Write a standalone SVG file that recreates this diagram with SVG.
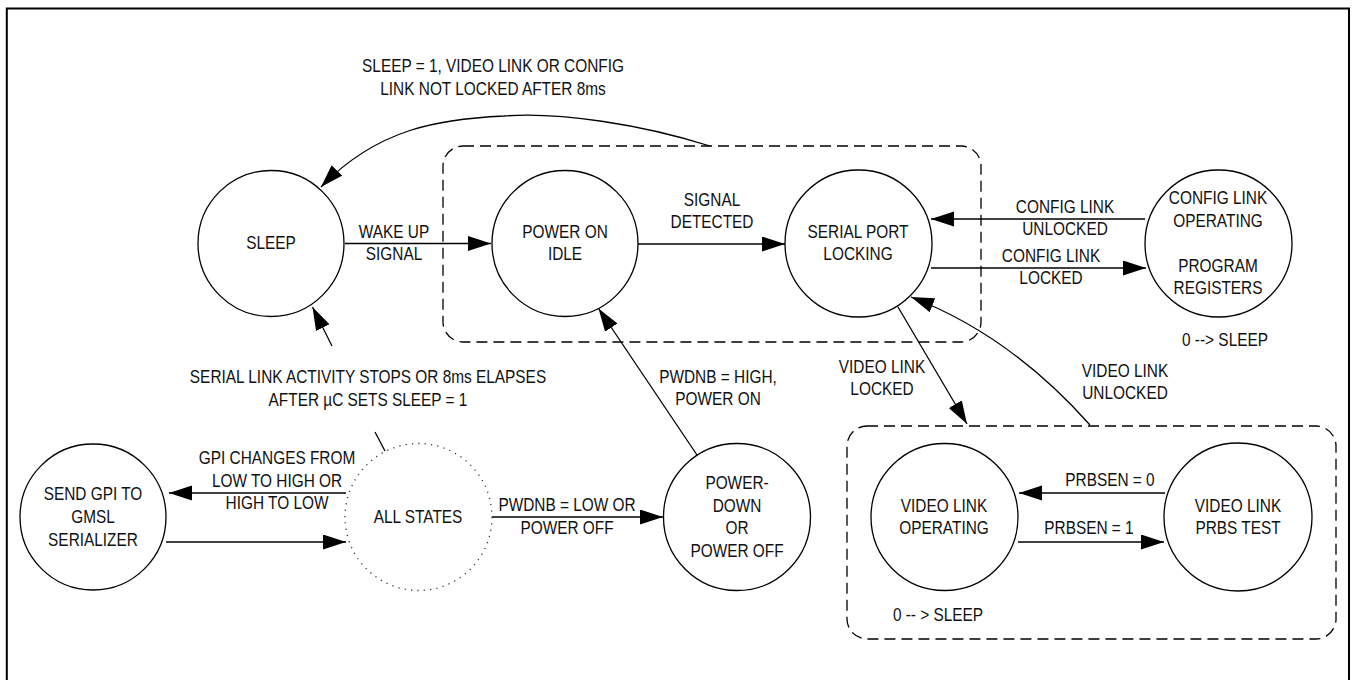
<svg xmlns="http://www.w3.org/2000/svg" width="1352" height="680" viewBox="0 0 1352 680">
  <style>
    .t { font-family: "Liberation Sans", Arial, "Helvetica", sans-serif; font-size: 17.5px; fill: #111; text-anchor: middle; }
    .node { fill: #fff; stroke: #000; stroke-width: 1.3; }
    .dot { fill: #fff; stroke: #333; stroke-width: 1.3; stroke-dasharray: 1.2 5.2; }
    .grp { fill: none; stroke: #000; stroke-width: 1.3; stroke-dasharray: 11 6; }
    .c { fill: none; stroke: #000; stroke-width: 1.3; }
    .arr { marker-end: url(#ah); }
  </style>
  <defs>
    <marker id="ah" markerUnits="userSpaceOnUse" markerWidth="24" markerHeight="16" refX="23" refY="7.5" orient="auto">
      <path d="M0,0 L23,7.5 L0,15 z" fill="#000"/>
    </marker>
  </defs>
  <rect width="1352" height="680" fill="#fff"/>
  <path d="M6.8,680 V8.5 H1349 V680" fill="none" stroke="#000" stroke-width="2"/>

  <g id="groups">
    <rect class="grp" x="443" y="146" width="538" height="196" rx="20"/>
    <rect class="grp" x="847" y="426" width="489" height="213" rx="20"/>
  </g>

  <g id="connectors">
    <path class="c arr" d="M345,243.5 H491"/>
    <path class="c arr" d="M638,244 H785"/>
    <path class="c arr" d="M1145,219 H931"/>
    <path class="c arr" d="M931,268 H1146"/>
    <path class="c arr" d="M898,307 L967,424"/>
    <path class="c arr" d="M1090,425 Q1010,335 911,297"/>
    <path class="c arr" d="M710,146 C640,124 560,112 504,116 C440,119 378,128 321,187"/>
    <path class="c" d="M385,451 L375,432"/>
    <path class="c arr" d="M332,346 L312.5,307"/>
    <path class="c arr" d="M697,455 L598.5,308.5"/>
    <path class="c arr" d="M492,517 H663"/>
    <path class="c arr" d="M346,493 H169"/>
    <path class="c arr" d="M166,542 H346"/>
    <path class="c arr" d="M1165,493 H1019"/>
    <path class="c arr" d="M1018,542 H1164"/>
  </g>

  <g id="labels">
    <text class="t" transform="translate(493,72.3) scale(0.88,1)"><tspan x="0" y="0">SLEEP = 1, VIDEO LINK OR CONFIG</tspan><tspan x="0" y="23">LINK NOT LOCKED AFTER 8ms</tspan></text>
    <text class="t" transform="translate(394,238.3) scale(0.88,1)"><tspan x="0" y="0">WAKE UP</tspan><tspan x="0" y="22">SIGNAL</tspan></text>
    <text class="t" transform="translate(712,206.3) scale(0.88,1)"><tspan x="0" y="0">SIGNAL</tspan><tspan x="0" y="22">DETECTED</tspan></text>
    <text class="t" transform="translate(1065,213.3) scale(0.88,1)"><tspan x="0" y="0">CONFIG LINK</tspan><tspan x="0" y="22">UNLOCKED</tspan></text>
    <text class="t" transform="translate(1051,262.3) scale(0.88,1)"><tspan x="0" y="0">CONFIG LINK</tspan><tspan x="0" y="22">LOCKED</tspan></text>
    <text class="t" transform="translate(1225,346.3) scale(0.88,1)">0 --&gt; SLEEP</text>
    <text class="t" transform="translate(368,383.3) scale(0.88,1)"><tspan x="0" y="0">SERIAL LINK ACTIVITY STOPS OR 8ms ELAPSES</tspan><tspan x="0" y="23">AFTER µC SETS SLEEP = 1</tspan></text>
    <text class="t" transform="translate(718,383.3) scale(0.88,1)"><tspan x="0" y="0">PWDNB = HIGH,</tspan><tspan x="0" y="22">POWER ON</tspan></text>
    <text class="t" transform="translate(882,373.3) scale(0.88,1)"><tspan x="0" y="0">VIDEO LINK</tspan><tspan x="0" y="22">LOCKED</tspan></text>
    <text class="t" transform="translate(1125,377.3) scale(0.88,1)"><tspan x="0" y="0">VIDEO LINK</tspan><tspan x="0" y="22">UNLOCKED</tspan></text>
    <text class="t" transform="translate(277,464.3) scale(0.88,1)"><tspan x="0" y="0">GPI CHANGES FROM</tspan><tspan x="0" y="22.5">LOW TO HIGH OR</tspan><tspan x="0" y="45">HIGH TO LOW</tspan></text>
    <text class="t" transform="translate(567,511.3) scale(0.88,1)"><tspan x="0" y="0">PWDNB = LOW OR</tspan><tspan x="0" y="23">POWER OFF</tspan></text>
    <text class="t" transform="translate(1110,486.3) scale(0.88,1)">PRBSEN = 0</text>
    <text class="t" transform="translate(1089,534.3) scale(0.88,1)">PRBSEN = 1</text>
    <text class="t" transform="translate(938,621.3) scale(0.88,1)">0 -- &gt; SLEEP</text>
  </g>

  <g id="n-sleep">
    <circle class="node" cx="271" cy="243.5" r="73"/>
    <text class="t" transform="translate(271,249.3) scale(0.88,1)">SLEEP</text>
  </g>
  <g id="n-power-on-idle">
    <circle class="node" cx="565" cy="243.5" r="73"/>
    <text class="t" transform="translate(565,238.3) scale(0.88,1)"><tspan x="0" y="0">POWER ON</tspan><tspan x="0" y="22">IDLE</tspan></text>
  </g>
  <g id="n-serial-port-locking">
    <circle class="node" cx="858.5" cy="243.5" r="73.5"/>
    <text class="t" transform="translate(858,238.3) scale(0.88,1)"><tspan x="0" y="0">SERIAL PORT</tspan><tspan x="0" y="22">LOCKING</tspan></text>
  </g>
  <g id="n-config-link">
    <circle class="node" cx="1218.5" cy="243.5" r="73.5"/>
    <text class="t" transform="translate(1218,204.3) scale(0.88,1)"><tspan x="0" y="0">CONFIG LINK</tspan><tspan x="0" y="22.5">OPERATING</tspan><tspan x="0" y="67.5">PROGRAM</tspan><tspan x="0" y="90">REGISTERS</tspan></text>
  </g>
  <g id="n-send-gpi">
    <circle class="node" cx="93" cy="517" r="73"/>
    <text class="t" transform="translate(93,500.3) scale(0.88,1)"><tspan x="0" y="0">SEND GPI TO</tspan><tspan x="0" y="23">GMSL</tspan><tspan x="0" y="46">SERIALIZER</tspan></text>
  </g>
  <g id="n-all-states">
    <circle class="dot" cx="418.5" cy="517" r="73.5"/>
    <text class="t" transform="translate(418,523.3) scale(0.88,1)">ALL STATES</text>
  </g>
  <g id="n-power-down">
    <circle class="node" cx="737" cy="517" r="73.5"/>
    <text class="t" transform="translate(737,489.3) scale(0.88,1)"><tspan x="0" y="0">POWER-</tspan><tspan x="0" y="22.5">DOWN</tspan><tspan x="0" y="45">OR</tspan><tspan x="0" y="67.5">POWER OFF</tspan></text>
  </g>
  <g id="n-video-link-operating">
    <circle class="node" cx="944.5" cy="517" r="73.5"/>
    <text class="t" transform="translate(944,512.3) scale(0.88,1)"><tspan x="0" y="0">VIDEO LINK</tspan><tspan x="0" y="21.5">OPERATING</tspan></text>
  </g>
  <g id="n-video-link-prbs">
    <circle class="node" cx="1238" cy="517" r="74"/>
    <text class="t" transform="translate(1238,512.3) scale(0.88,1)"><tspan x="0" y="0">VIDEO LINK</tspan><tspan x="0" y="21.5">PRBS TEST</tspan></text>
  </g>
</svg>
